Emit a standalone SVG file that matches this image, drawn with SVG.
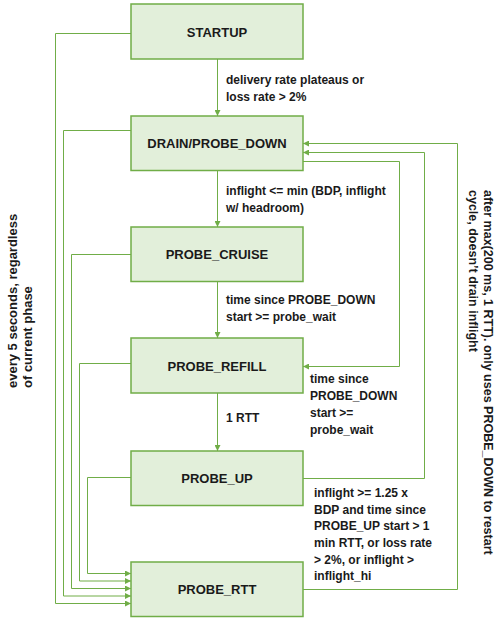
<svg xmlns="http://www.w3.org/2000/svg" width="496" height="618" viewBox="0 0 496 618">
<style>
.box{fill:#e2efda;stroke:#70ad47;stroke-width:1.5}
.nl{font-family:"Liberation Sans",Arial,sans-serif;font-weight:bold;font-size:13px;fill:#1a1a1a;text-anchor:middle}
.el{font-family:"Liberation Sans",Arial,sans-serif;font-weight:bold;font-size:12px;fill:#1a1a1a}
.c{fill:none;stroke:#70ad47;stroke-width:1;marker-end:url(#ah)}
</style>
<defs>
<marker id="ah" markerUnits="userSpaceOnUse" markerWidth="6" markerHeight="6" refX="6" refY="3" orient="auto">
<path d="M0,0 L6,3 L0,6 z" fill="#70ad47"/>
</marker>
</defs>
<rect width="496" height="618" fill="#ffffff"/>
<g id="connectors">
<path class="c" d="M217.5,59 V116"/>
<path class="c" d="M217.5,170.5 V227"/>
<path class="c" d="M217.5,281.5 V338"/>
<path class="c" d="M217.5,393 V451"/>
<path class="c" d="M131,33.5 H55.5 V603.5 H131"/>
<path class="c" d="M131,130.5 H63.5 V596 H131"/>
<path class="c" d="M131,254.5 H71.5 V588.5 H131"/>
<path class="c" d="M131,363.5 H79.5 V581 H131"/>
<path class="c" d="M131,477.5 H87.5 V573.5 H131"/>
<path class="c" d="M303,161.5 H399.5 V366.5 H303"/>
<path class="c" d="M303,478.5 H424.5 V152.5 H303"/>
<path class="c" d="M303,589.5 H457.5 V143.5 H303"/>
</g>
<g id="STARTUP"><rect class="box" x="131" y="4" width="172" height="55"/><text class="nl" x="217" y="36.5">STARTUP</text></g>
<g id="DRAIN_PROBE_DOWN"><rect class="box" x="131" y="116" width="172" height="54.5"/><text class="nl" x="217" y="148">DRAIN/PROBE_DOWN</text></g>
<g id="PROBE_CRUISE"><rect class="box" x="131" y="227" width="172" height="54.5"/><text class="nl" x="217" y="259">PROBE_CRUISE</text></g>
<g id="PROBE_REFILL"><rect class="box" x="131" y="338" width="172" height="55"/><text class="nl" x="217" y="370.5">PROBE_REFILL</text></g>
<g id="PROBE_UP"><rect class="box" x="131" y="451" width="172" height="54.5"/><text class="nl" x="217" y="483">PROBE_UP</text></g>
<g id="PROBE_RTT"><rect class="box" x="131" y="562" width="172" height="54.5"/><text class="nl" x="217" y="594">PROBE_RTT</text></g>
<g id="labels">
<text class="el" x="226" y="84">delivery rate plateaus or</text>
<text class="el" x="226" y="101">loss rate &gt; 2%</text>
<text class="el" x="226" y="195">inflight &lt;= min (BDP, inflight</text>
<text class="el" x="226" y="212">w/ headroom)</text>
<text class="el" x="226" y="304">time since PROBE_DOWN</text>
<text class="el" x="226" y="321">start &gt;= probe_wait</text>
<text class="el" x="226" y="422">1 RTT</text>
<text class="el" x="310" y="383">time since</text>
<text class="el" x="310" y="400">PROBE_DOWN</text>
<text class="el" x="310" y="417">start &gt;=</text>
<text class="el" x="310" y="434">probe_wait</text>
<text class="el" x="314" y="497">inflight &gt;= 1.25 x</text>
<text class="el" x="314" y="513.5">BDP and time since</text>
<text class="el" x="314" y="530">PROBE_UP start &gt; 1</text>
<text class="el" x="314" y="547">min RTT, or loss rate</text>
<text class="el" x="314" y="563.5">&gt; 2%, or inflight &gt;</text>
<text class="el" x="314" y="580">inflight_hi</text>
<text class="el" style="font-size:13px" transform="translate(17,388) rotate(-90)">every 5 seconds, regardless</text>
<text class="el" style="font-size:13px" transform="translate(32,388) rotate(-90)">of current phase</text>
<text class="el" style="font-size:12.5px" transform="translate(484,190) rotate(90)">after max(200 ms, 1 RTT). only uses PROBE_DOWN to restart</text>
<text class="el" style="font-size:12.5px" transform="translate(469,190) rotate(90)">cycle, doesn’t drain inflight</text>
</g>
</svg>
